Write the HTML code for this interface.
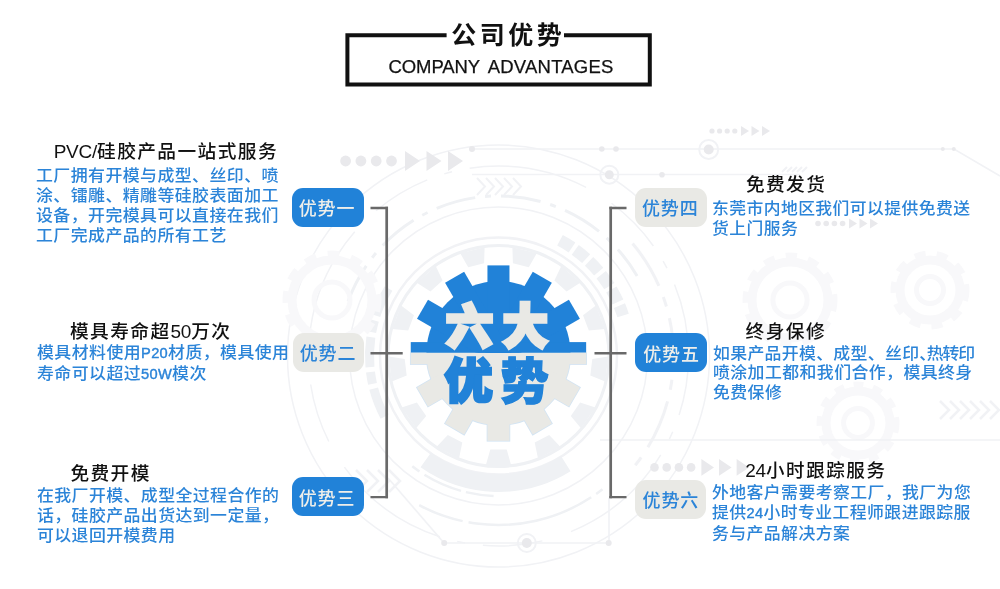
<!DOCTYPE html>
<html lang="zh-CN">
<head>
<meta charset="utf-8">
<title>公司优势</title>
<style>
*{margin:0;padding:0;box-sizing:border-box}
html,body{width:1000px;height:589px;overflow:hidden;background:#fff}
body{position:relative;will-change:transform;font-family:"Liberation Sans","Noto Sans CJK SC",sans-serif;}
.abs{position:absolute}
#bg{position:absolute;left:0;top:0;width:1000px;height:589px}
.ttl{position:absolute;left:445px;top:15px;width:123px;height:40px;text-align:center;font-weight:700;font-size:25px;line-height:40px;color:#111;letter-spacing:3.5px;text-indent:3.5px;white-space:nowrap}
.sub{position:absolute;left:388.6px;top:56px;font-size:18.5px;line-height:22px;color:#111;letter-spacing:0.22px;white-space:nowrap;word-spacing:3.4px;-webkit-text-stroke:0.25px #111}
.h{position:absolute;font-size:18.7px;line-height:24px;color:#111;white-space:nowrap;letter-spacing:1.42px;font-weight:500}
.h i{font-style:normal;letter-spacing:-0.25px;font-size:19px}
.p{position:absolute;font-size:16.2px;line-height:19.85px;color:#2b84d8;white-space:nowrap;letter-spacing:0.41px;font-weight:500;transform:scaleX(1.045);transform-origin:0 0}
.p i{font-style:normal;font-size:14px;letter-spacing:0.3px;font-weight:400;-webkit-text-stroke:0.4px #2b84d8}
.p b{font-weight:inherit;letter-spacing:-10px}
.bd{position:absolute;width:72px;height:39px;border-radius:11px;font-size:18px;line-height:42.4px;text-align:center;white-space:nowrap;font-weight:500;letter-spacing:0.85px;padding-right:2px}
.bd.b{background:#2182d8;color:#eeeeea}
.bd.g{background:#e9e9e5;color:#2b84d8}
</style>
</head>
<body>
<svg id="bg" viewBox="0 0 1000 589">
<g fill="none" stroke="#f1f2f5" stroke-width="1.5">
<circle cx="498.5" cy="356.0" r="211"/>
<circle cx="498.5" cy="356.0" r="149"/>
<circle cx="498.5" cy="356.0" r="118.5" stroke-width="2.5"/>
<circle cx="498.5" cy="356.0" r="190" stroke-dasharray="60 18 8 18 120 30"/>
</g>
<g fill="#eff1f4"><path d="M506.7 449.5L490.3 449.5L485.9 465.0L511.1 465.0Z"/><path d="M462.3 442.6L447.8 435.0L436.7 446.7L459.0 458.4Z"/><path d="M426.2 415.9L416.9 402.4L401.6 407.5L416.0 428.3Z"/><path d="M406.7 375.4L404.7 359.1L388.8 356.6L391.8 381.6Z"/><path d="M408.2 330.5L414.0 315.2L401.1 305.6L392.1 329.1Z"/><path d="M430.4 291.5L442.6 280.6L435.7 266.1L416.8 282.8Z"/><path d="M468.2 267.2L484.1 263.3L484.6 247.2L460.2 253.2Z"/><path d="M512.9 263.3L528.8 267.2L536.8 253.2L512.4 247.2Z"/><path d="M554.4 280.6L566.6 291.5L580.2 282.8L561.3 266.1Z"/><path d="M583.0 315.2L588.8 330.5L604.9 329.1L595.9 305.6Z"/><path d="M592.3 359.1L590.3 375.4L605.2 381.6L608.2 356.6Z"/><path d="M580.1 402.4L570.8 415.9L581.0 428.3L595.4 407.5Z"/><path d="M549.2 435.0L534.7 442.6L538.0 458.4L560.3 446.7Z"/></g>
<circle cx="498.5" cy="356.0" r="110.5" fill="none" stroke="#eff1f4" stroke-width="3"/>
<g fill="none" stroke="#eff1f4" stroke-linecap="butt">
<path d="M565.8 463.7A127 127 0 0 1 425.7 460.0" stroke-width="18"/>
<path d="M384.6 416.6A129 129 0 0 1 389.1 287.6" stroke-width="9" stroke-dasharray="30 5 12 5"/>
<path d="M560.0 240.3A131 131 0 0 1 623.1 315.5" stroke-width="12" stroke-dasharray="14 4"/>
<path d="M493.6 495.9A140 140 0 0 1 412.3 466.3" stroke-width="2.5" stroke-dasharray="28 5 40 6"/>
<path d="M602.5 489.2A169 169 0 0 1 419.2 505.2" stroke-width="2.5" stroke-dasharray="8 6 120 0"/>
<path d="M348.1 301.3A160 160 0 0 1 637.1 276.0" stroke-width="3" stroke-dasharray="40 10 6 10"/>
<path d="M632.6 243.5A175 175 0 0 1 632.6 468.5" stroke-width="3" stroke-dasharray="50 12 10 12" stroke="#f1f2f5"/>
</g>
<g fill="none" stroke="#f8f8fa"><circle cx="790" cy="300" r="38" stroke-width="9"/><circle cx="790" cy="300" r="44" stroke-width="7" stroke-dasharray="11.26 11.26"/><circle cx="790" cy="300" r="17.1" stroke-width="5"/></g>
<g fill="none" stroke="#f8f8fa"><circle cx="858" cy="423" r="32" stroke-width="9"/><circle cx="858" cy="423" r="38" stroke-width="7" stroke-dasharray="9.69 9.69"/><circle cx="858" cy="423" r="14.4" stroke-width="5"/></g>
<g fill="none" stroke="#f8f8fa"><circle cx="332" cy="300" r="40" stroke-width="9"/><circle cx="332" cy="300" r="46" stroke-width="7" stroke-dasharray="11.78 11.78"/><circle cx="332" cy="300" r="18.0" stroke-width="5"/></g>
<g fill="none" stroke="#f8f8fa"><circle cx="930" cy="290" r="30" stroke-width="9"/><circle cx="930" cy="290" r="36" stroke-width="7" stroke-dasharray="11.00 11.00"/><circle cx="930" cy="290" r="13.5" stroke-width="5"/></g>
<g fill="#e9e9ec"><circle cx="345.6" cy="161" r="5.4"/><circle cx="360.9" cy="161" r="5.4"/><circle cx="376.2" cy="161" r="5.4"/><circle cx="391.5" cy="161" r="5.4"/><path d="M405.0 151.0L420.0 161L405.0 171.0Z"/><path d="M426.5 151.0L441.5 161L426.5 171.0Z"/><path d="M448.0 151.0L463.0 161L448.0 171.0Z"/></g>
<g fill="#e9e9ec"><circle cx="712.0" cy="131" r="2.6"/><circle cx="719.6" cy="131" r="2.6"/><circle cx="727.2" cy="131" r="2.6"/><circle cx="734.8" cy="131" r="2.6"/><path d="M741.0 126.0L749.0 131L741.0 136.0Z"/><path d="M751.5 126.0L759.5 131L751.5 136.0Z"/><path d="M762.0 126.0L770.0 131L762.0 136.0Z"/></g>
<g fill="#e9e9ec"><circle cx="818.0" cy="223.5" r="2.8"/><circle cx="826.2" cy="223.5" r="2.8"/><circle cx="834.4" cy="223.5" r="2.8"/><circle cx="842.6" cy="223.5" r="2.8"/><path d="M849.0 218.5L857.0 223.5L849.0 228.5Z"/><path d="M859.5 218.5L867.5 223.5L859.5 228.5Z"/><path d="M870.0 218.5L878.0 223.5L870.0 228.5Z"/></g>
<g fill="#e9e9ec"><circle cx="654.5" cy="467.4" r="4.3"/><circle cx="666.7" cy="467.4" r="4.3"/><circle cx="678.9" cy="467.4" r="4.3"/><circle cx="691.1" cy="467.4" r="4.3"/><path d="M701.4 459.0L714.0 467.4L701.4 475.8Z"/><path d="M719.0 459.0L731.6 467.4L719.0 475.8Z"/><path d="M736.6 459.0L749.2 467.4L736.6 475.8Z"/></g>
<g fill="none" stroke="#f1f2f5" stroke-width="1.6">
<path d="M472 149H954L1000 176"/>
<path d="M472 174.5H800"/>
<path d="M782 172l5-5M787 172l5-5M792 172l5-5M797 172l5-5M802 172l5-5" stroke-width="2"/>
<path d="M444 543H609V498"/>
<path d="M444 543L388 478"/>
<path d="M600 440H1000"/>
<circle cx="708.7" cy="149.5" r="9.5" stroke-width="2"/>
<circle cx="609.3" cy="174.7" r="9" stroke-width="2"/>
<circle cx="526.8" cy="543" r="9" stroke-width="2"/>
</g>
<g fill="#e9e9ec">
<circle cx="472" cy="149" r="3"/>
<circle cx="601.8" cy="149" r="2.8"/>
<circle cx="616" cy="149" r="2.8"/>
<circle cx="942.8" cy="149" r="2"/>
<circle cx="953.8" cy="149" r="2"/>
<circle cx="662" cy="174.7" r="2.8"/>
<circle cx="708.7" cy="149.5" r="5"/>
<circle cx="609.3" cy="174.7" r="4.5"/>
<circle cx="526.8" cy="543" r="5"/>
<circle cx="444.2" cy="543" r="3"/>
<circle cx="608.7" cy="543" r="3"/>
</g>
<g fill="none" stroke="#f1f2f5" stroke-width="2"><path d="M477.0 178.0L485.0 186.5L477.0 195.0"/><path d="M486.0 178.0L494.0 186.5L486.0 195.0"/><path d="M495.0 178.0L503.0 186.5L495.0 195.0"/><path d="M504.0 178.0L512.0 186.5L504.0 195.0"/><path d="M513.0 178.0L521.0 186.5L513.0 195.0"/></g>
<g fill="none" stroke="#f1f2f5" stroke-width="2.5"><path d="M940.0 401.0L949.0 410L940.0 419.0"/><path d="M950.0 401.0L959.0 410L950.0 419.0"/><path d="M960.0 401.0L969.0 410L960.0 419.0"/><path d="M970.0 401.0L979.0 410L970.0 419.0"/><path d="M980.0 401.0L989.0 410L980.0 419.0"/><path d="M990.0 401.0L999.0 410L990.0 419.0"/></g>
<g fill="none" stroke="#f1f2f5" stroke-width="2.5"><path d="M356.0 470.0L367.0 481L356.0 492.0"/><path d="M367.0 470.0L378.0 481L367.0 492.0"/><path d="M378.0 470.0L389.0 481L378.0 492.0"/><path d="M389.0 470.0L400.0 481L389.0 492.0"/></g>
</svg>

<svg class="abs" style="left:0;top:0" width="1000" height="100" viewBox="0 0 1000 100"><path d="M446.6 35.2 H347.4 V84.5 H649.8 V35.2 H564" fill="none" stroke="#111" stroke-width="4" stroke-linejoin="miter"/></svg>
<div class="ttl">公司优势</div>
<div class="sub"><span style="letter-spacing:-0.12px">COMPANY</span> ADVANTAGES</div>

<div class="h" style="left:53.7px;top:139.5px"><i>PVC/</i>硅胶产品一站式服务</div>
<div class="p" style="left:36.1px;top:166px">工厂拥有开模与成型、丝印、喷<br>涂、镭雕、精雕等硅胶表面加工<br>设备，开完模具可以直接在我们<br>工厂完成产品的所有工艺</div>

<div class="h" style="left:70px;top:319.8px">模具寿命超<i>50</i>万次</div>
<div class="p" style="left:37px;top:343px">模具材料使用<i>P20</i>材质，模具使用<br>寿命可以超过<i>50W</i>模次</div>

<div class="h" style="left:70.4px;top:461.8px">免费开模</div>
<div class="p" style="left:37px;top:486.4px;transform:scaleX(1.043)">在我厂开模、成型全过程合作的<br>话，硅胶产品出货达到一定量，<br>可以退回开模费用</div>

<div class="h" style="left:745.9px;top:173.1px">免费发货</div>
<div class="p" style="left:712.2px;top:199.4px;transform:scaleX(1.038)">东莞市内地区我们可以提供免费送<br>货上门服务</div>

<div class="h" style="left:745.6px;top:319.6px">终身保修</div>
<div class="p" style="left:712.6px;top:343.6px;transform:scaleX(1.043)"><span style="letter-spacing:0.3px">如果产品开模、成型、丝印</span><b style="letter-spacing:-9.2px">、</b><span style="letter-spacing:-1.1px">热转印</span><br>喷涂加工都和我们合作，模具终身<br>免费保修</div>

<div class="h" style="left:745.3px;top:459.2px;font-size:18.5px;letter-spacing:1.6px"><i>24</i>小时跟踪服务</div>
<div class="p" style="left:712px;top:483.2px;transform:scaleX(1.041)">外地客户需要考察工厂，我厂为您<br>提供<i>24</i>小时专业工程师跟进跟踪服<br>务与产品解决方案</div>

<div class="bd b" style="left:292px;top:188px">优势一</div>
<div class="bd g" style="left:292.5px;top:333px;width:71px;padding-right:0">优势二</div>
<div class="bd b" style="left:292px;top:477px;line-height:45px">优势三</div>
<div class="bd g" style="left:635px;top:188px;padding-right:1.4px">优势四</div>
<div class="bd b" style="left:635px;top:333px;padding-right:0;padding-left:1px;line-height:44.4px">优势五</div>
<div class="bd g" style="left:635px;top:480px;width:71px;padding-right:0;padding-left:0.8px">优势六</div>

<svg class="abs" style="left:0;top:0" width="1000" height="589" viewBox="0 0 1000 589">
<g fill="none" stroke="#696969">
<path d="M386.7 206.8V498.3M610.7 206.8V498.3" stroke-width="2.7"/>
<path d="M370.5 208H388M370.5 353.25H402.7M370.5 497.15H388M609.4 208H626.5M594.5 353.25H626.5M609.4 497.15H626.5" stroke-width="2.35"/>
</g>
</svg>

<svg class="abs" id="gear" style="left:397px;top:252px" width="202" height="202" viewBox="-101.45 -101.1 202 202">
<defs>
<g id="gshape">
<circle r="72"/>
<rect x="-11" y="-87.7" width="22" height="175.4"/>
<rect x="-11" y="-87.7" width="22" height="175.4" transform="rotate(30)"/>
<rect x="-11" y="-87.7" width="22" height="175.4" transform="rotate(60)"/>
<rect x="-11" y="-87.7" width="22" height="175.4" transform="rotate(90)"/>
<rect x="-11" y="-87.7" width="22" height="175.4" transform="rotate(120)"/>
<rect x="-11" y="-87.7" width="22" height="175.4" transform="rotate(150)"/>
</g>
<clipPath id="ctop"><rect x="-101" y="-101" width="202" height="100.4"/></clipPath>
<clipPath id="cbot"><rect x="-101" y="-0.6" width="202" height="101.6"/></clipPath>
</defs>
<use href="#gshape" fill="#d3e4f3" stroke="#d3e4f3" stroke-width="1.6" clip-path="url(#cbot)"/>
<use href="#gshape" fill="#e9e9e5" clip-path="url(#cbot)"/>
<use href="#gshape" fill="#2182d8" clip-path="url(#ctop)"/>
<g font-family="'Liberation Sans','Noto Sans CJK SC',sans-serif" font-weight="900" font-size="49" text-anchor="middle" stroke-width="2.4" stroke-linejoin="miter" paint-order="stroke">
<g fill="#e9e9e5" stroke="#e9e9e5" font-size="47.5" stroke-width="3.8"><text transform="translate(-29 -10.2) scale(0.99 0.97)">六</text><text transform="translate(26.8 -10.2) scale(0.95 0.97)">大</text></g>
<g fill="#2182d8" stroke="#2182d8"><text transform="translate(-30 45) scale(0.99 0.97)">优</text><text transform="translate(26.3 45.4) scale(0.985 0.99)" stroke-width="1.4">势</text></g>
</g>
</svg>
</body>
</html>
